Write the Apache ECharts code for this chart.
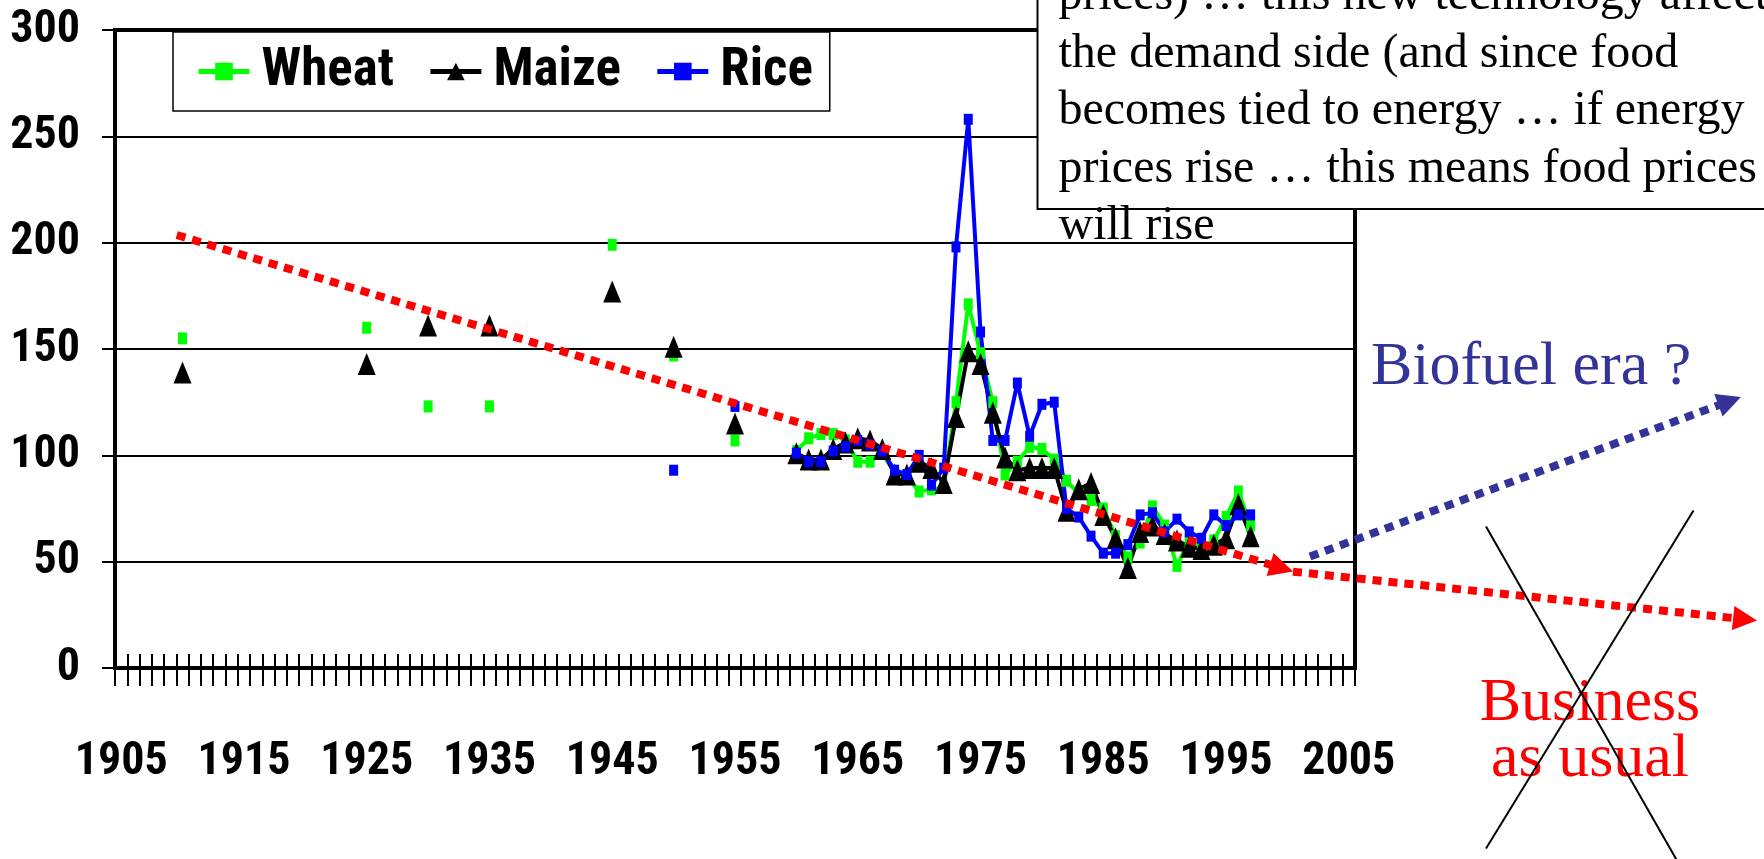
<!DOCTYPE html>
<html><head><meta charset="utf-8">
<script src="https://cdn.jsdelivr.net/npm/echarts@6/dist/echarts.min.js"></script>
<style>html,body{margin:0;padding:0;background:#fff;}#c{width:1764px;height:859px;}</style>
</head><body><div id="c"></div>
<script>
// ---- axis ----
const axisStartYear = 1905;
const axisEndYear = 2005;
const yTicks = [0, 50, 100, 150, 200, 250, 300];

// ---- data (price index) ----
const dataYears = [1910,1925,1930,1935,1945,1950,1955,
  1960,1961,1962,1963,1964,1965,1966,1967,1968,1969,
  1970,1971,1972,1973,1974,1975,1976,1977,1978,1979,
  1980,1981,1982,1983,1984,1985,1986,1987,1988,1989,
  1990,1991,1992,1993,1994,1995,1996,1997];
const wheat = [155,160,123,123,199,147,107,
  102,108,110,110,107,97,97,101,92,90,
  83,84,85,125,171,148,125,91,97,104,
  103,98,88,82,79,75,62,52,59,76,
  67,48,60,57,60,71,83,67];
const maize = [139,143,161,161,177,151,115,
  101,98,98,103,106,108,107,103,91,91,
  97,94,87,118,149,143,120,99,93,94,
  94,94,74,84,87,72,61,47,64,67,
  63,60,57,56,58,61,77,62];
const rice = [null,null,null,null,null,93,123,
  101,97,97,102,104,107,105,102,93,91,
  100,86,94,198,258,158,107,107,134,109,
  124,125,75,71,62,54,54,58,72,73,
  64,70,64,61,72,67,72,72];

// ---- annotation arrows (year, index) ----
const trendPast = [[1909.53, 203.6], [1999.52, 47.0]];
const trendUsual = [[2000.45, 45.3], [2037.27, 22.9]];
const trendBiofuel = [[2001.83, 52.4], [2036.02, 125.5]];

const categories = [];
for (let y = axisStartYear; y <= axisEndYear; y++) categories.push(String(y));
function toSeries(values) {
  const map = {};
  dataYears.forEach((y, i) => { map[y] = values[i]; });
  return categories.map(c => (map[+c] === undefined ? null : map[+c]));
}

const narrow = "'Liberation Sans Narrow','Roboto Condensed','Arial Narrow','Liberation Sans',Arial,sans-serif";
const serif = "'Liberation Serif','Times New Roman',serif";

const chart = echarts.init(document.getElementById('c'), null, {renderer: 'canvas'});
function lineSeries(name, values, color, symbol, size) {
  return {
    name, type: 'line', xAxisIndex: 0, yAxisIndex: 0,
    data: toSeries(values), connectNulls: false, showAllSymbol: true,
    symbol, symbolSize: size,
    lineStyle: {color, width: 4}, itemStyle: {color, opacity: 1},
    emphasis: {disabled: true}, z: 3
  };
}
function arrowSeries(coords, color) {
  return {
    type: 'lines', coordinateSystem: 'cartesian2d', xAxisIndex: 2, yAxisIndex: 0,
    clip: false, z: 6, silent: true,
    symbol: ['none', 'triangle'], symbolSize: 24,
    lineStyle: {color, width: 8, type: [9, 7], opacity: 1, curveness: 0, cap: 'butt'},
    itemStyle: {color},
    data: [{coords}]
  };
}

chart.setOption({
  animation: false,
  backgroundColor: '#fff',
  grid: {left: 115, right: 409, top: 30, bottom: 191, show: true, borderColor: '#000', borderWidth: 4,
    backgroundColor: 'transparent', outerBoundsMode: 'none'},
  legend: {
    left: 173, top: 32, orient: 'horizontal',
    padding: [13, 17, 13, 23], itemGap: 34, itemWidth: 51, itemHeight: 22,
    backgroundColor: '#fff', borderColor: '#000', borderWidth: 1.5,
    lineStyle: {width: 5},
    textStyle: {fontSize: 53, fontWeight: 'bold', fontFamily: narrow, color: '#000', padding: [0, 0, 0, 7]},
    data: ['Wheat', 'Maize', 'Rice'], selectedMode: false
  },
  xAxis: [
    {type: 'category', data: categories, position: 'bottom', boundaryGap: true,
      axisLine: {show: true, onZero: false, lineStyle: {color: '#000', width: 4}},
      axisTick: {show: true, interval: 0, length: 18, lineStyle: {color: '#000', width: 2}},
      axisLabel: {interval: 9, margin: 71, fontSize: 46, fontWeight: 'bold', fontFamily: narrow, color: '#000',
        showMinLabel: true, showMaxLabel: true, hideOverlap: false},
      splitLine: {show: false}},
    {type: 'category', data: categories, position: 'bottom', boundaryGap: true,
      axisLine: {show: false, onZero: false},
      axisTick: {show: true, inside: true, interval: 0, length: 14, lineStyle: {color: '#000', width: 2}},
      axisLabel: {show: false}, splitLine: {show: false}},
    {type: 'value', min: axisStartYear - 0.5, max: axisEndYear + 0.5, show: false}
  ],
  yAxis: [{type: 'value', min: yTicks[0], max: yTicks[yTicks.length - 1], interval: 50,
    axisLine: {show: true, lineStyle: {color: '#000', width: 4}},
    axisTick: {show: true, length: 13, lineStyle: {color: '#000', width: 2}},
    axisLabel: {margin: 35, fontSize: 46, fontWeight: 'bold', fontFamily: narrow, color: '#000',
      showMinLabel: true, showMaxLabel: true},
    splitLine: {show: true, lineStyle: {color: '#000', width: 2}}}],
  series: [
    lineSeries('Wheat', wheat, '#00ff00', 'rect', [9, 12]),
    lineSeries('Maize', maize, '#000000', 'triangle', [18, 22]),
    lineSeries('Rice', rice, '#0000ff', 'rect', [9, 11]),
    arrowSeries(trendPast, '#ff0000'),
    arrowSeries(trendUsual, '#ff0000'),
    arrowSeries(trendBiofuel, '#333399')
  ],
  graphic: [
    {type: 'rect', z: 100, shape: {x: 1037.5, y: -10, width: 800, height: 219},
      style: {fill: '#fff', stroke: '#000', lineWidth: 2}},
    {type: 'text', z: 101, x: 1058.5, y: -32,
      style: {text: 'prices) \u2026 this new technology affects\nthe demand side (and since food\nbecomes tied to energy \u2026 if energy\nprices rise \u2026 this means food prices\nwill rise',
        fontSize: 48, fontFamily: serif, fill: '#000', lineHeight: 57.5, align: 'left', verticalAlign: 'top'}},
    {type: 'text', z: 101, x: 1371, y: 368,
      style: {text: 'Biofuel era ?', fontSize: 62, fontFamily: serif, fill: '#333399', align: 'left', verticalAlign: 'middle'}},
    {type: 'text', z: 101, x: 1590, y: 676,
      style: {text: 'Business\nas usual', fontSize: 62, fontFamily: serif, fill: '#ff0000', lineHeight: 55.5, align: 'center', verticalAlign: 'top'}},
    {type: 'line', z: 102, shape: {x1: 1486, y1: 526.6, x2: 1678.4, y2: 863}, style: {stroke: '#000', lineWidth: 2}},
    {type: 'line', z: 102, shape: {x1: 1693.5, y1: 510.4, x2: 1486, y2: 848.6}, style: {stroke: '#000', lineWidth: 2}}
  ]
});
</script></body></html>
